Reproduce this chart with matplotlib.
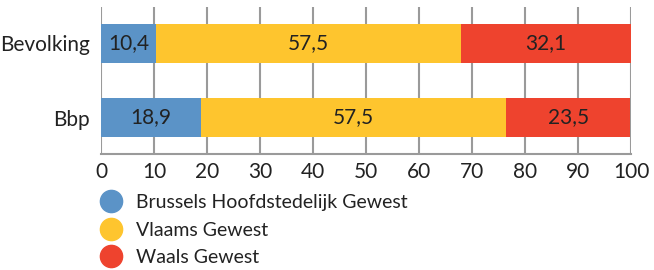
import matplotlib.pyplot as plt
from matplotlib.lines import Line2D

plt.rcParams['font.family'] = ['Lato', 'DejaVu Sans']

categories = ["Bevolking", "Bbp"]
regions = ["Brussels Hoofdstedelijk Gewest", "Vlaams Gewest", "Waals Gewest"]
brussel = [10.4, 18.9]
vlaanderen = [57.5, 57.5]
wallonie = [32.1, 23.5]
colors = ["#5b93c7", "#fec52e", "#ee432e"]

fig = plt.figure(figsize=(6.54, 2.70), dpi=100)
ax = fig.add_axes([101 / 654, 1 - 154 / 270, 530 / 654, 147 / 270])

ypos = [1, 0]
left = [0, 0]
for vals, col in zip([brussel, vlaanderen, wallonie], colors):
    bars = ax.barh(ypos, vals, left=left, height=0.527, color=col, zorder=3)
    for b, v, l in zip(bars, vals, left):
        ax.text(l + v / 2, b.get_y() + b.get_height() / 2,
                f"{v:.1f}".replace(".", ","), ha="center", va="center",
                fontsize=15, color="#222222", zorder=4)
    left = [l + v for l, v in zip(left, vals)]

ax.set_xlim(0, 100)
ax.set_ylim(-0.493, 1.493)
ax.set_xticks(range(0, 101, 10))
ax.set_yticks(ypos)
ax.set_yticklabels(categories)
ax.tick_params(axis="both", length=0, labelsize=15, colors="#222222")
ax.tick_params(axis="x", pad=6)
ax.tick_params(axis="y", pad=8)
ax.grid(axis="x", color="#9a9a9a", linewidth=1.5, zorder=0)
for s in ["top", "left", "right"]:
    ax.spines[s].set_visible(False)
ax.spines["bottom"].set_color("#9a9a9a")
ax.spines["bottom"].set_linewidth(1.5)

handles = [Line2D([], [], marker="o", linestyle="", markersize=16,
                  markerfacecolor=c, markeredgecolor=c) for c in colors]
fig.legend(handles, regions, loc="upper left", bbox_to_anchor=(0.14, 1 - 194 / 270),
           frameon=False, fontsize=14, labelspacing=0.54, handletextpad=0.3,
           borderaxespad=0, borderpad=0, labelcolor="#222222")

fig.savefig("out.png", dpi=100)
